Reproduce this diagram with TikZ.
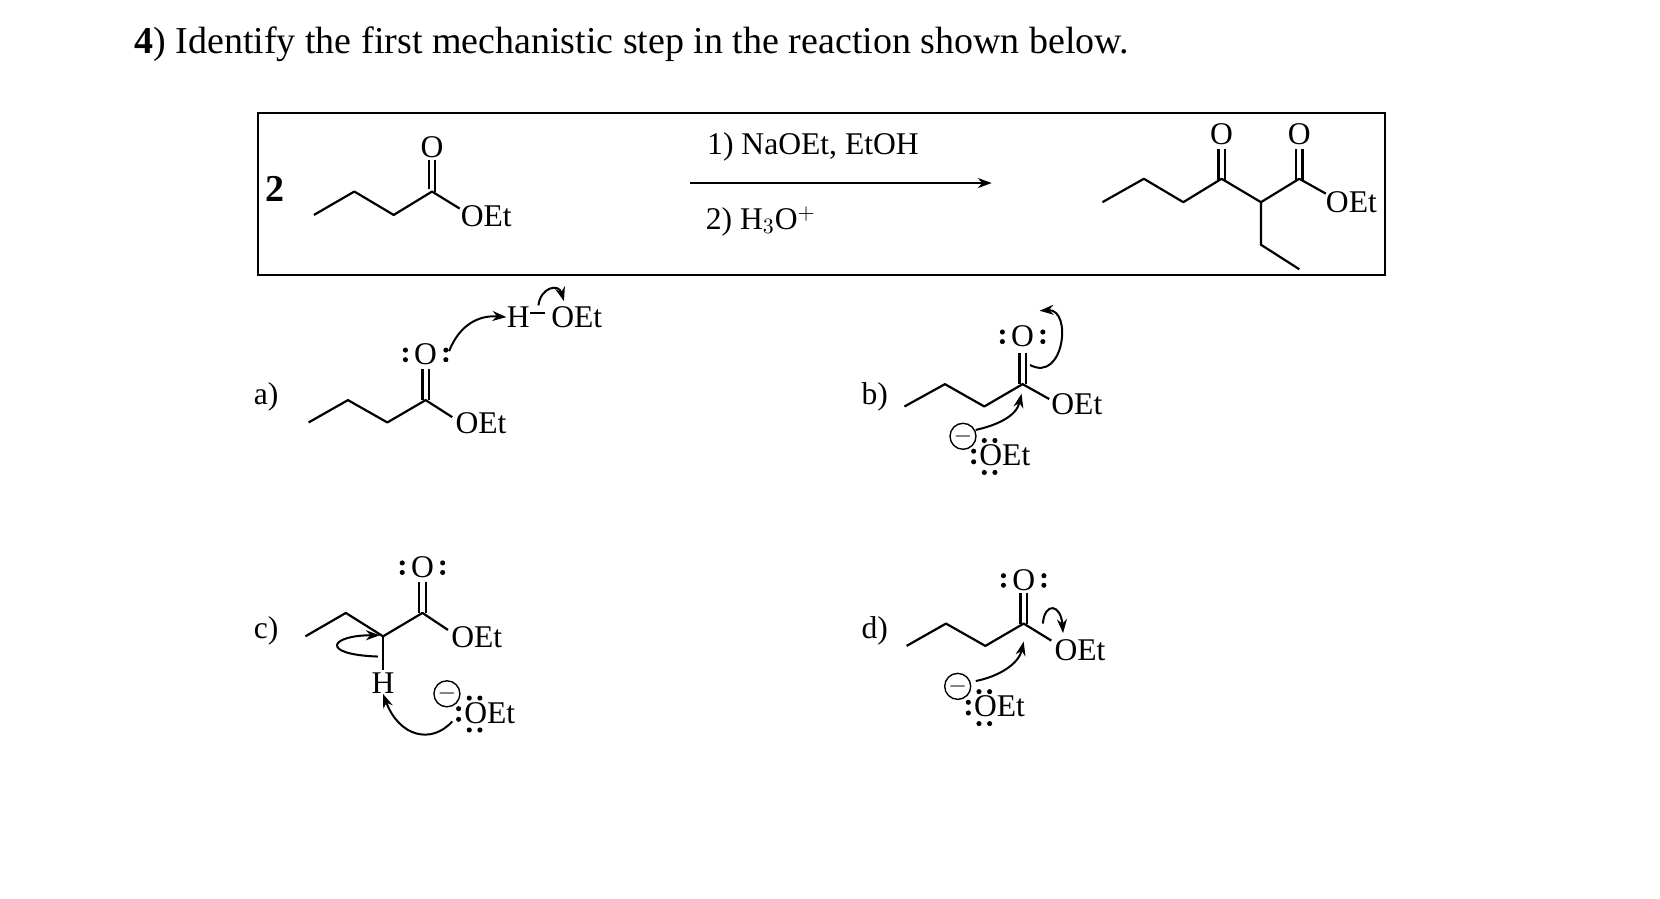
\documentclass[tikz,border=0pt]{standalone}
\usepackage{fontspec}
\setmainfont{Liberation Serif}
\usetikzlibrary{arrows.meta,calc}
\newcommand{\lpO}[1]{\foreach \dx in {-19,19}{\foreach \dy in {-4,5}{\fill ($(#1)+(\dx,\dy)$) circle (2.4);}}}
\begin{document}
\begin{tikzpicture}[x=0.532pt,y=-0.532pt,
  txt/.style={inner sep=0pt,font=\fontsize{15.8}{18}\selectfont},
  bond/.style={line width=1.1pt,line join=round},
  arr/.style={line width=1pt,-{Stealth[length=7pt,width=5pt]}}]
\useasboundingbox (0,0) rectangle (1560,844);
\node[inner sep=0pt,anchor=base west,font=\fontsize{19}{22}\selectfont] (title) at (126,50) {\textbf{4}) Identify the first mechanistic step in the reaction shown below.};
% box
\draw[line width=1pt] (242,106) rectangle (1302,258);
\node[txt,font=\fontsize{19}{20}\selectfont\bfseries] (two) at (258,178) {2};
\draw[bond] (295,202)--(333,180)--(370,202)--(406,180)--(432,196);
\draw[bond] (403,178)--(403,150) (409,180)--(409,150);
\node[txt] (o1) at (406,138) {O};
\node[txt] (oet1) at (457,203) {OEt};
\draw[arr] (648,172) -- (932,172);
\node[txt] (r1) at (764,138) {1) NaOEt, EtOH};
\node[txt,anchor=west] (r2) at (663,208) {2) H$_3$O$^+$};
% product
\draw[bond] (1036,190)--(1075,168)--(1112,190)--(1148,168)--(1185,190)--(1221,168)--(1246,182);
\draw[bond] (1185,190)--(1185,230)--(1221,253);
\draw[bond] (1145,170)--(1145,140) (1151,170)--(1151,140);
\draw[bond] (1218,170)--(1218,140) (1224,170)--(1224,140);
\node[txt] (o2) at (1148,126) {O};
\node[txt] (o3) at (1221,126) {O};
\node[txt] (oet2) at (1270,190) {OEt};
% a
\node[txt] (la) at (250,373) {a)};
\draw[bond] (290,397)--(327,376)--(364,397)--(400,376)--(425,392);
\draw[bond] (397,376)--(397,347) (403,376)--(403,347);
\node[txt] (oa) at (400,333) {O}; \lpO{oa}
\node[txt] (oeta) at (452,398) {OEt};
\node[txt] (ha) at (487,298) {H};
\node[txt] (hoeta) at (542,298) {OEt};
\draw[line width=1pt] (498,294)--(512,294);
\draw[arr] (422,330) .. controls (432,305) and (450,296) .. (ha.west);
\draw[arr] (506,287) .. controls (508,270) and (525,266) .. (530,283);
% b
\node[txt] (lb) at (822,373) {b)};
\draw[bond] (850,382)--(888,361)--(925,382)--(961,361)--(986,375);
\draw[bond] (958,361)--(958,332) (964,361)--(964,332);
\node[txt] (ob) at (961,316) {O}; \lpO{ob}
\node[txt] (oetb) at (1012,380) {OEt};
\draw[arr] (968,343) .. controls (1000,360) and (1008,290) .. (977,292);
\node[draw,circle,inner sep=0pt,minimum size=13pt,line width=0.7pt,font=\fontsize{12}{12}\selectfont] (mb) at (905,410) {$-$};
\node[txt,anchor=west] (eb) at (920,428) {OEt};
\foreach \p in {(925,414),(935,414),(925,444),(935,444),(915,424),(915,434)} \fill \p circle (2.4);
\draw[arr] (917,404) .. controls (935,400) and (955,392) .. (960,370);
% c
\node[txt] (lc) at (250,593) {c)};
\draw[bond] (287,598)--(325,576)--(360,598)--(397,576)--(421,592);
\draw[bond] (360,598)--(360,630);
\draw[bond] (394,576)--(394,547) (400,576)--(400,547);
\node[txt] (oc) at (397,533) {O}; \lpO{oc}
\node[txt] (oetc) at (448,599) {OEt};
\node[txt] (hc) at (360,642) {H};
\draw[arr] (355,617) .. controls (300,615) and (310,597) .. (357,597);
\node[draw,circle,inner sep=0pt,minimum size=13pt,line width=0.7pt,font=\fontsize{12}{12}\selectfont] (mc) at (420,652) {$-$};
\node[txt,anchor=west] (ec) at (436,670) {OEt};
\foreach \p in {(441,656),(451,656),(441,686),(451,686),(431,666),(431,676)} \fill \p circle (2.4);
\draw[arr] (425,678) .. controls (405,700) and (375,692) .. (hc.south);
% d
\node[txt] (ld) at (822,593) {d)};
\draw[bond] (852,607)--(889,586)--(926,607)--(962,586)--(988,602);
\draw[bond] (959,586)--(959,557) (965,586)--(965,557);
\node[txt] (od) at (962,545) {O}; \lpO{od}
\node[txt] (oetd) at (1015,611) {OEt};
\draw[arr] (980,586) .. controls (982,565) and (997,568) .. (999,595);
\node[draw,circle,inner sep=0pt,minimum size=13pt,line width=0.7pt,font=\fontsize{12}{12}\selectfont] (md) at (900,645) {$-$};
\node[txt,anchor=west] (ed) at (915,664) {OEt};
\foreach \p in {(920,650),(930,650),(920,680),(930,680),(910,660),(910,670)} \fill \p circle (2.4);
\draw[arr] (917,640) .. controls (937,636) and (957,625) .. (962,603);
\end{tikzpicture}
\end{document}
